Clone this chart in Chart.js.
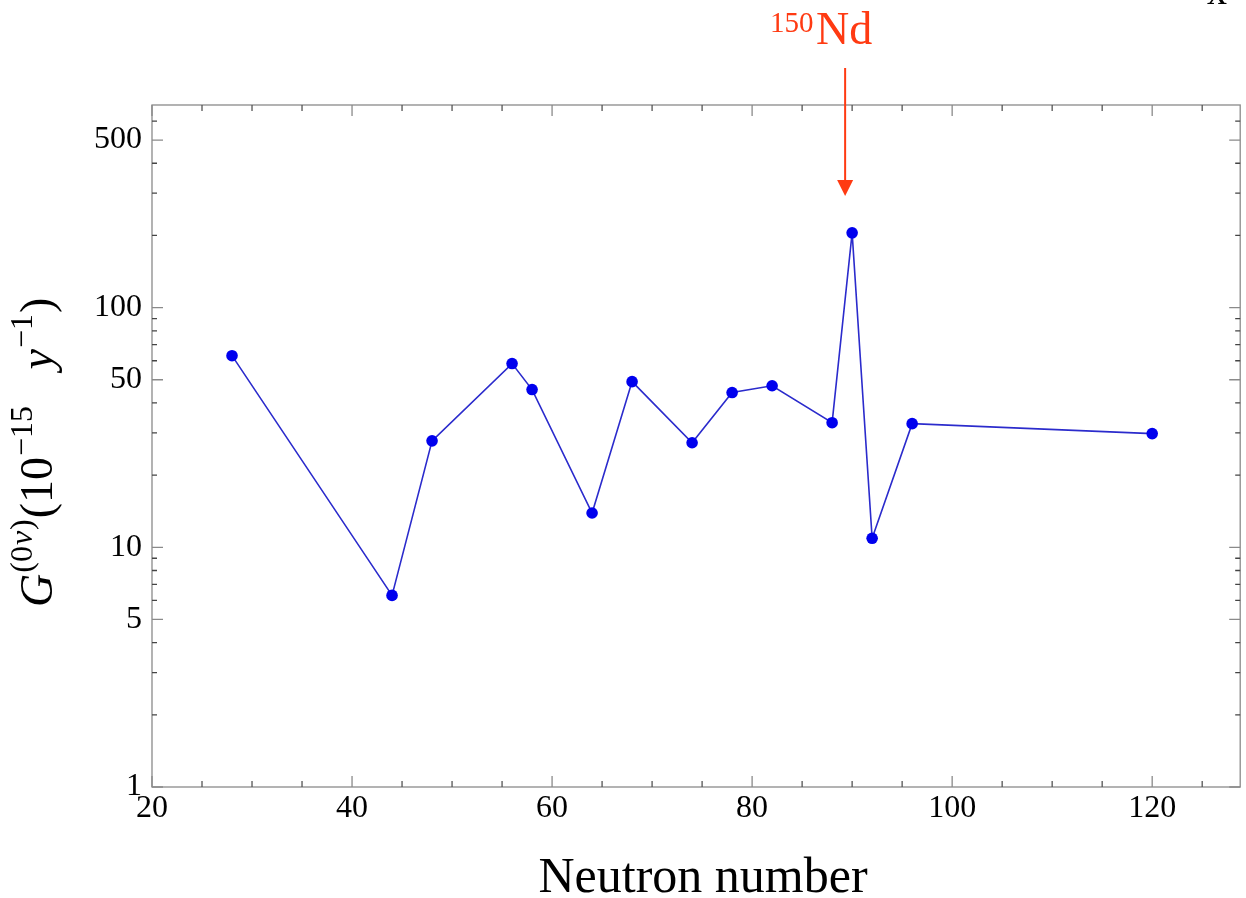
<!DOCTYPE html>
<html>
<head>
<meta charset="utf-8">
<title>G(0v) vs neutron number</title>
<script src="https://cdn.jsdelivr.net/npm/chart.js@4/dist/chart.umd.min.js"></script>
<style>
  html, body { margin: 0; padding: 0; background: #fff; }
  canvas { display: block; }
</style>
</head>
<body>
<canvas id="chart" width="1246" height="898"></canvas>
<script>
// neutron numbers of the 0vbb candidates and their phase-space factors (10^-15 / y)
const neutrons = [28, 44, 48, 56, 58, 64, 68, 74, 78, 82, 88, 90, 92, 96, 120];
const phaseSpace = [63, 6.3, 27.8, 58.4, 45.5, 13.9, 49.1, 27.3, 44.2, 47.2, 33.1, 205, 10.9, 32.8, 29.8];

const xTickLabels = [20, 40, 60, 80, 100, 120];
const yTickLabels = [1, 5, 10, 50, 100, 500];
const yMinorTicks = [2, 3, 4, 6, 7, 8, 9, 20, 30, 40, 60, 70, 80, 90, 200, 300, 400, 600];
const xMinorStep = 5;

const ndArrowAt = 89.3;

const serif = "'Liberation Serif', 'DejaVu Serif', serif";

const frameAndLabels = {
  id: "frameAndLabels",
  afterDraw(chart) {
    const { ctx, chartArea: a, scales } = chart;
    const x = scales.x, y = scales.y;
    ctx.save();

    // frame
    ctx.strokeStyle = "#8a8a8a";
    ctx.lineWidth = 1.3;
    ctx.strokeRect(a.left, a.top, a.right - a.left, a.bottom - a.top);

    // inward ticks on all four sides
    const tickX = (v, len) => {
      const px = x.getPixelForValue(v);
      ctx.beginPath();
      ctx.moveTo(px, a.bottom); ctx.lineTo(px, a.bottom - len);
      ctx.moveTo(px, a.top); ctx.lineTo(px, a.top + len);
      ctx.stroke();
    };
    const tickY = (v, len) => {
      const py = y.getPixelForValue(v);
      ctx.beginPath();
      ctx.moveTo(a.left, py); ctx.lineTo(a.left + len, py);
      ctx.moveTo(a.right, py); ctx.lineTo(a.right - len, py);
      ctx.stroke();
    };
    ctx.strokeStyle = "#555";
    for (let v = 25; v <= x.max; v += xMinorStep) {
      if (!xTickLabels.includes(v)) tickX(v, 6);
    }
    ctx.strokeStyle = "#8a8a8a";
    xTickLabels.forEach(v => tickX(v, 11));
    ctx.strokeStyle = "#444";
    yMinorTicks.forEach(v => tickY(v, 5));
    ctx.strokeStyle = "#8a8a8a";
    yTickLabels.forEach(v => tickY(v, 11));

    // x axis title
    ctx.fillStyle = "#000";
    ctx.font = "50px " + serif;
    ctx.textAlign = "center";
    ctx.textBaseline = "alphabetic";
    ctx.fillText("Neutron number", 703, 892);

    // y axis title, rotated, built from pieces so the superscripts sit right
    ctx.save();
    ctx.translate(52, 607);
    ctx.rotate(-Math.PI / 2);
    ctx.textAlign = "left";
    const big = "46px " + serif, small = "32px " + serif;
    const pieces = [
      { t: "G", f: "italic " + big, dy: 0 },
      { t: "(0", f: small, dy: -20 },
      { t: "ν", f: "italic " + small, dy: -20 },
      { t: ")", f: small, dy: -20 },
      { t: "(10", f: big, dy: 0 },
      { t: "−15", f: small, dy: -20 },
      { t: "   ", f: big, dy: 0 },
      { t: "y", f: "italic " + big, dy: 0 },
      { t: "−1", f: small, dy: -20 },
      { t: ")", f: big, dy: 0 }
    ];
    let cx = 0;
    pieces.forEach(p => {
      ctx.font = p.f;
      ctx.fillText(p.t, cx, p.dy);
      cx += ctx.measureText(p.t).width + 1;
    });
    ctx.restore();

    // 150Nd annotation with arrow
    const ax = x.getPixelForValue(ndArrowAt);
    ctx.fillStyle = "#ff3a12";
    ctx.strokeStyle = "#ff3a12";
    ctx.textAlign = "left";
    ctx.font = "29px " + serif;
    ctx.fillText("150", 770, 32);
    ctx.font = "46px " + serif;
    ctx.fillText("Nd", 816, 44);
    ctx.lineWidth = 2;
    ctx.beginPath();
    ctx.moveTo(ax, 68);
    ctx.lineTo(ax, 182);
    ctx.stroke();
    ctx.beginPath();
    ctx.moveTo(ax - 8, 180);
    ctx.lineTo(ax + 8, 180);
    ctx.lineTo(ax, 196);
    ctx.closePath();
    ctx.fill();

    // clipped glyph at the top-right edge
    ctx.fillStyle = "#000";
    ctx.font = "40px " + serif;
    ctx.textAlign = "center";
    ctx.fillText("x", 1217, 4);

    ctx.restore();
  }
};

new Chart(document.getElementById("chart"), {
  type: "line",
  data: {
    datasets: [{
      data: neutrons.map((n, i) => ({ x: n, y: phaseSpace[i] })),
      borderColor: "#2b2bcc",
      borderWidth: 1.6,
      pointRadius: 5.8,
      pointBackgroundColor: "#0000ee",
      pointBorderWidth: 0,
      tension: 0,
      fill: false
    }]
  },
  options: {
    responsive: false,
    animation: false,
    layout: { padding: { top: 105, right: 1, left: 0, bottom: 0 } },
    plugins: {
      legend: { display: false },
      tooltip: { enabled: false }
    },
    scales: {
      x: {
        type: "linear",
        min: 20,
        max: 128.8,
        grid: { display: false, drawTicks: false, tickLength: 0 },
        border: { display: false },
        afterBuildTicks: s => { s.ticks = xTickLabels.map(v => ({ value: v })); },
        afterFit: s => { s.height = 111; },
        ticks: {
          autoSkip: false,
          maxRotation: 0,
          padding: 2,
          color: "#000",
          font: { family: serif, size: 32 }
        }
      },
      y: {
        type: "logarithmic",
        min: 1,
        max: 700,
        grid: { display: false, drawTicks: false, tickLength: 0 },
        border: { display: false },
        afterBuildTicks: s => { s.ticks = yTickLabels.map(v => ({ value: v })); },
        afterFit: s => { s.width = 152; },
        ticks: {
          autoSkip: false,
          padding: 10,
          color: "#000",
          font: { family: serif, size: 32 },
          callback: v => String(v)
        }
      }
    }
  },
  plugins: [frameAndLabels]
});
</script>
</body>
</html>
